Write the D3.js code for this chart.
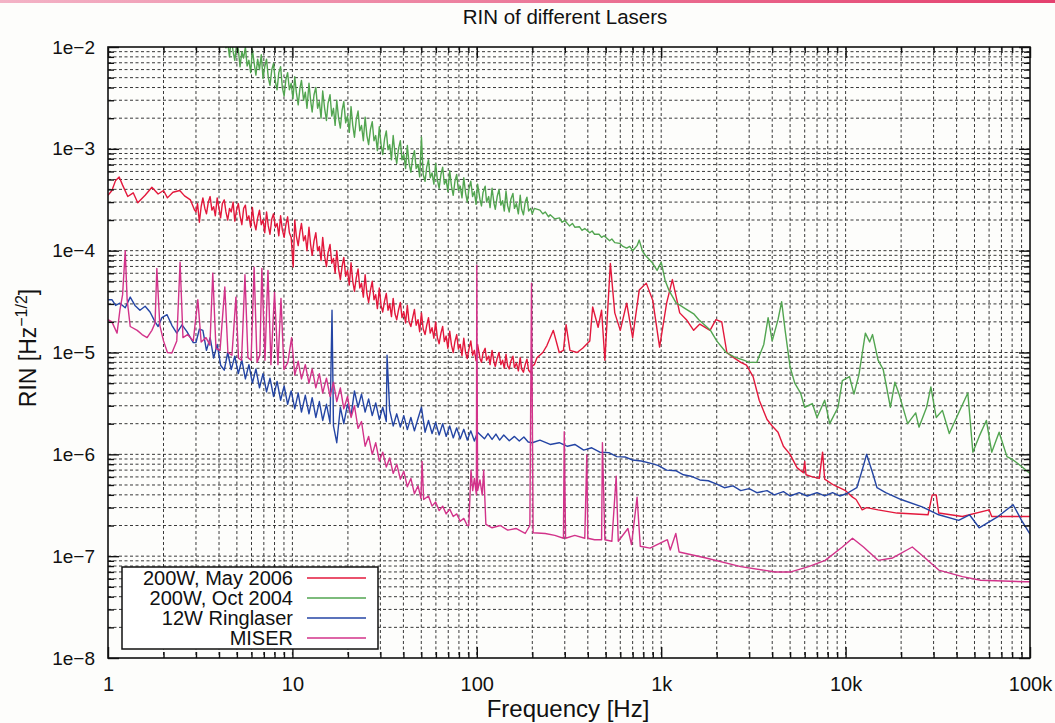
<!DOCTYPE html>
<html>
<head>
<meta charset="utf-8">
<script src="https://cdn.jsdelivr.net/npm/d3@7"></script>
<style>
    body { margin: 0; background: #fdfdfb; }
    svg { display: block; font-family: "Liberation Sans", Arial, Helvetica, sans-serif; }
</style>
</head>
<body>
<svg id="chart" width="1055" height="723"></svg>
<script>
// Series: [frequency Hz, RIN 1/sqrt(Hz)]
const may2006 = [
    [1.0,3.5e-4],[1.05,3.9e-4],[1.1,4.9e-4],[1.15,5.3e-4],[1.2,4.4e-4],[1.28,3.4e-4],[1.37,3.7e-4],[1.45,2.95e-4],
    [1.59,3.5e-4],[1.73,4.2e-4],[1.87,3.6e-4],[2.0,3.9e-4],[2.1,3.3e-4],[2.25,3.75e-4],[2.45,3.9e-4],[2.6,3.45e-4],
    [2.8,3.15e-4],[2.95,2.5e-4],[3.0,2.4e-4],[3.06,2.9e-4],[3.13,1.9e-4],[3.2,2.7e-4],[3.27,3.3e-4],[3.35,2.6e-4],
    [3.42,2.3e-4],[3.5,3.0e-4],[3.58,3.4e-4],[3.66,2.5e-4],[3.74,2.7e-4],[3.82,2.2e-4],[3.91,3.3e-4],[4.0,2.6e-4],
    [4.08,2.1e-4],[4.17,2.9e-4],[4.27,3.15e-4],[4.36,2.4e-4],[4.46,2.0e-4],[4.56,2.6e-4],[4.66,2.4e-4],[4.77,3.0e-4],
    [4.87,1.95e-4],[4.98,2.5e-4],[5.09,2.9e-4],[5.2,2.2e-4],[5.32,1.8e-4],[5.44,2.6e-4],[5.56,2.8e-4],[5.68,2.0e-4],
    [5.81,2.2e-4],[5.94,1.7e-4],[6.07,2.65e-4],[6.2,1.9e-4],[6.34,1.6e-4],[6.48,2.1e-4],[6.63,2.5e-4],[6.78,1.8e-4],
    [6.93,2.0e-4],[7.08,1.5e-4],[7.24,2.4e-4],[7.4,1.75e-4],[7.56,1.45e-4],[7.73,2.05e-4],[7.9,2.3e-4],[8.08,1.7e-4],
    [8.26,1.85e-4],[8.44,1.4e-4],[8.63,2.2e-4],[8.82,1.6e-4],[9.02,1.35e-4],[9.22,1.8e-4],[9.42,2.15e-4],[9.63,1.5e-4],
    [9.85,1.35e-4],[10.1,6.9e-5],[10.3,2.0e-4],[10.5,1.4e-4],[10.75,1.12e-4],[11.0,1.55e-4],[11.2,1.85e-4],[11.5,1.25e-4],
    [11.75,1.4e-4],[12.0,1.0e-4],[12.3,1.7e-4],[12.55,1.15e-4],[12.8,9.0e-5],[13.1,1.25e-4],[13.4,1.5e-4],[13.7,1.0e-4],
    [14.0,1.1e-4],[14.3,8.0e-5],[14.6,1.35e-4],[14.95,8.8e-5],[15.3,7.0e-5],[15.6,9.5e-5],[16.0,1.15e-4],[16.35,7.5e-5],
    [16.7,8.4e-5],[17.05,6.0e-5],[17.4,1.0e-4],[17.8,6.6e-5],[18.2,5.2e-5],[18.6,7.0e-5],[19.0,8.6e-5],[19.45,5.6e-5],
    [19.9,6.4e-5],[20.35,4.6e-5],[20.8,7.6e-5],[21.25,5.0e-5],[21.7,4.0e-5],[22.2,5.4e-5],[22.7,6.6e-5],[23.2,4.3e-5],
    [23.7,4.8e-5],[24.25,3.5e-5],[24.8,5.8e-5],[25.35,3.8e-5],[25.9,3.1e-5],[26.5,4.1e-5],[27.1,5.0e-5],[27.7,3.3e-5],
    [28.3,3.7e-5],[28.9,2.7e-5],[29.6,4.3e-5],[30.25,2.9e-5],[30.9,2.5e-5],[31.6,3.2e-5],[32.3,3.8e-5],[33.0,2.6e-5],
    [33.7,3.0e-5],[34.45,2.25e-5],[35.2,3.4e-5],[36.0,2.4e-5],[36.8,2.1e-5],[37.6,2.6e-5],[38.5,3.1e-5],[39.3,2.2e-5],
    [40.2,2.5e-5],[41.1,1.95e-5],[42.0,2.9e-5],[42.9,2.0e-5],[43.9,1.8e-5],[44.9,2.2e-5],[45.9,2.65e-5],[46.9,1.85e-5],
    [48.0,2.1e-5],[49.0,1.6e-5],[50.1,2.45e-5],[51.2,1.7e-5],[52.4,1.5e-5],[53.5,1.85e-5],[54.7,2.2e-5],[55.9,1.55e-5],
    [57.2,1.75e-5],[58.5,1.38e-5],[59.8,2.0e-5],[61.1,1.4e-5],[62.5,1.22e-5],[63.9,1.55e-5],[65.3,1.8e-5],[66.7,1.28e-5],
    [68.2,1.45e-5],[69.7,1.1e-5],[71.3,1.62e-5],[72.9,1.18e-5],[74.5,1.0e-5],[76.1,1.28e-5],[77.8,1.5e-5],[79.5,1.08e-5],
    [81.3,1.2e-5],[83.1,9.3e-6],[85.0,1.38e-5],[86.9,1.0e-5],[88.8,8.7e-6],[90.8,1.1e-5],[92.8,1.3e-5],[94.9,9.4e-6],
    [97.0,1.05e-5],[99.1,8.3e-6],[101,1.2e-5],[104,8.8e-6],[106,8.0e-6],[108,9.8e-6],[111,1.1e-5],[113,8.4e-6],
    [116,9.2e-6],[118,7.6e-6],[121,1.05e-5],[124,8.0e-6],[126,7.3e-6],[129,8.8e-6],[132,1.0e-5],[135,7.6e-6],
    [138,8.4e-6],[141,7.0e-6],[144,9.6e-6],[147,7.4e-6],[150,6.9e-6],[153,8.2e-6],[157,9.2e-6],[160,7.1e-6],
    [164,7.9e-6],[168,6.6e-6],[172,8.9e-6],[175,6.9e-6],[179,6.4e-6],[183,7.6e-6],[187,8.6e-6],[191,6.7e-6],
    [196,6.3e-6],[200,7.4e-6],[205,7.6e-6],[212,8.9e-6],[228,1e-5],[240,1.17e-5],[260,1.65e-5],[280,1e-5],
    [295,1.05e-5],[305,1.87e-5],[320,1.05e-5],[350,1e-5],[375,1.1e-5],[410,1.3e-5],[425,2.8e-5],[455,1.77e-5],
    [475,2.6e-5],[495,8.4e-6],[530,7.5e-5],[560,2.45e-5],[600,1.65e-5],[650,3.05e-5],[700,1.4e-5],[760,4.1e-5],
    [830,4.8e-5],[900,3.25e-5],[980,1.13e-5],[1070,3.05e-5],[1150,5.2e-5],[1260,2.45e-5],[1370,2.1e-5],[1500,1.65e-5],
    [1620,1.9e-5],[1840,1.65e-5],[1980,2.1e-5],[2130,2e-5],[2270,1e-5],[2450,9e-6],[2700,8e-6],[2900,7.5e-6],
    [3150,5.8e-6],[3400,3.4e-6],[3750,2.2e-6],[4000,1.9e-6],[4300,1.65e-6],[4600,1.2e-6],[5000,1e-6],[5450,7.4e-7],
    [5900,6.6e-7],[6000,8.5e-7],[6100,6.3e-7],[6600,6e-7],[7200,5.8e-7],[7500,1.05e-6],[7700,5.7e-7],[8600,5e-7],
    [10000,4.4e-7],[10900,3.8e-7],[11400,3.6e-7],[12300,2.85e-7],[13000,3e-7],[15000,2.85e-7],[19000,2.65e-7],
    [28000,2.55e-7],[29500,4e-7],[31000,4e-7],[32000,2.65e-7],[43000,2.45e-7],[60000,2.85e-7],[62000,2.45e-7],
    [100000,2.45e-7]
];

const oct2004 = [
    [4.1,1.4e-2],[4.27,1.3e-2],[4.36,9.8e-3],[4.46,1.1e-2],[4.56,8.0e-3],[4.66,1.25e-2],[4.77,9.0e-3],[4.87,7.4e-3],
    [4.98,1.05e-2],[5.09,9.5e-3],[5.2,6.4e-3],[5.32,9.0e-3],[5.44,7.8e-3],[5.56,1.0e-2],[5.68,6.5e-3],[5.81,7.4e-3],
    [5.94,5.6e-3],[6.07,9.4e-3],[6.2,7.0e-3],[6.34,5.3e-3],[6.48,7.6e-3],[6.63,6.0e-3],[6.78,8.4e-3],[6.93,4.9e-3],
    [7.08,6.4e-3],[7.24,7.6e-3],[7.4,5.0e-3],[7.56,4.2e-3],[7.73,6.0e-3],[7.9,6.9e-3],[8.08,4.6e-3],[8.26,3.8e-3],
    [8.44,5.6e-3],[8.63,6.4e-3],[8.82,4.0e-3],[9.02,3.3e-3],[9.22,4.8e-3],[9.42,5.6e-3],[9.63,3.8e-3],[9.85,4.4e-3],
    [10.07,3.1e-3],[10.3,5.1e-3],[10.5,3.6e-3],[10.75,2.7e-3],[11.0,4.0e-3],[11.2,4.7e-3],[11.5,3.0e-3],[11.75,3.6e-3],
    [12.0,2.5e-3],[12.3,4.4e-3],[12.55,3.0e-3],[12.8,2.3e-3],[13.1,3.4e-3],[13.4,4.0e-3],[13.7,2.5e-3],[14.0,2.9e-3],
    [14.3,2.0e-3],[14.6,3.7e-3],[14.95,2.5e-3],[15.3,1.9e-3],[15.6,2.8e-3],[16.0,3.4e-3],[16.35,2.1e-3],[16.7,2.5e-3],
    [17.05,1.7e-3],[17.4,3.0e-3],[17.8,2.0e-3],[18.2,1.6e-3],[18.6,2.4e-3],[19.0,2.9e-3],[19.45,1.8e-3],[19.9,2.1e-3],
    [20.35,1.45e-3],[20.8,2.6e-3],[21.25,1.7e-3],[21.7,1.3e-3],[22.2,1.95e-3],[22.7,2.35e-3],[23.2,1.5e-3],[23.7,1.7e-3],
    [24.25,1.2e-3],[24.8,2.05e-3],[25.35,1.35e-3],[25.9,1.1e-3],[26.5,1.55e-3],[27.1,1.85e-3],[27.7,1.2e-3],[28.3,1.35e-3],
    [28.9,9.6e-4],[29.6,1.65e-3],[30.25,1.1e-3],[30.9,8.8e-4],[31.6,1.25e-3],[32.3,1.5e-3],[33.0,9.8e-4],[33.7,1.1e-3],
    [34.45,7.8e-4],[35.2,1.35e-3],[36.0,9.0e-4],[36.8,7.2e-4],[37.6,1.0e-3],[38.5,1.2e-3],[39.3,7.8e-4],[40.2,8.8e-4],
    [41.1,6.4e-4],[42.0,1.08e-3],[42.9,7.2e-4],[43.9,5.9e-4],[44.9,8.2e-4],[45.9,9.6e-4],[46.9,6.4e-4],[48.0,7.0e-4],
    [49.0,5.3e-4],[50.1,1.3e-3],[51.2,5.6e-4],[52.4,4.8e-4],[53.5,6.6e-4],[54.7,7.8e-4],[55.9,5.2e-4],[57.2,5.8e-4],
    [58.5,4.5e-4],[59.8,7.2e-4],[61.1,5.0e-4],[62.5,4.1e-4],[63.9,5.6e-4],[65.3,6.6e-4],[66.7,4.5e-4],[68.2,5.0e-4],
    [69.7,3.8e-4],[71.3,6.1e-4],[72.9,4.3e-4],[74.5,3.5e-4],[76.1,4.8e-4],[77.8,5.6e-4],[79.5,3.9e-4],[81.3,4.3e-4],
    [83.1,3.3e-4],[85.0,5.2e-4],[86.9,3.7e-4],[88.8,3.0e-4],[90.8,4.1e-4],[92.8,4.8e-4],[94.9,3.4e-4],[97.0,3.8e-4],
    [99.1,2.85e-4],[101,4.5e-4],[104,3.2e-4],[106,2.75e-4],[108,3.7e-4],[111,4.3e-4],[113,3.0e-4],[116,3.4e-4],
    [118,2.65e-4],[121,4.1e-4],[124,2.9e-4],[126,2.55e-4],[129,3.4e-4],[132,4.0e-4],[135,2.8e-4],[138,3.1e-4],
    [141,2.45e-4],[144,3.85e-4],[147,2.75e-4],[150,2.4e-4],[153,3.2e-4],[157,3.65e-4],[160,2.6e-4],[164,2.9e-4],
    [168,2.3e-4],[172,3.5e-4],[175,2.55e-4],[179,2.25e-4],[183,3.0e-4],[187,3.35e-4],[191,2.45e-4],[196,2.6e-4],
    [200,2.3e-4],[205,2.6e-4],[220,2.5e-4],[228,2.3e-4],[235,2.4e-4],[245,2.15e-4],[250,2.25e-4],[265,2.05e-4],
    [281,2.1e-4],[290,1.9e-4],[300,1.98e-4],[318,1.75e-4],[330,1.85e-4],[340,1.7e-4],[360,1.72e-4],[372,1.58e-4],
    [385,1.65e-4],[410,1.5e-4],[422,1.56e-4],[435,1.45e-4],[460,1.45e-4],[475,1.35e-4],[490,1.4e-4],[525,1.25e-4],
    [540,1.3e-4],[560,1.2e-4],[595,1.18e-4],[620,1.1e-4],[650,1.06e-4],[675,1.1e-4],[700,1.0e-4],[740,1.12e-4],
    [760,1.27e-4],[790,1.0e-4],[820,9e-5],[890,7.7e-5],[950,6.4e-5],[1000,7.7e-5],[1050,5.1e-5],[1100,4.1e-5],
    [1200,3.1e-5],[1350,2.7e-5],[1500,2.4e-5],[1600,2.1e-5],[1850,1.65e-5],[2000,1.3e-5],[2250,1e-5],[2500,9e-6],
    [2800,8.4e-6],[3000,8e-6],[3300,8e-6],[3600,1.2e-5],[3800,2.2e-5],[4000,1.3e-5],[4300,2.1e-5],[4500,3.15e-5],
    [4700,1.65e-5],[5000,7.2e-6],[5300,5e-6],[5700,4e-6],[6000,2.9e-6],[6600,3.15e-6],[7000,2.3e-6],[7700,3.4e-6],
    [8200,2e-6],[9100,2.9e-6],[9600,5.3e-6],[10500,5.8e-6],[11100,3.9e-6],[11800,6e-6],[12800,1.55e-5],[13500,1.27e-5],
    [14000,1.5e-5],[15000,8.4e-6],[16000,6.8e-6],[17500,2.9e-6],[18500,5.1e-6],[19500,3.9e-6],[21700,2e-6],
    [24000,2.55e-6],[25000,1.85e-6],[27500,2.9e-6],[29000,4.6e-6],[31000,2.3e-6],[33500,2.7e-6],[36500,1.6e-6],
    [41000,2.55e-6],[46000,4e-6],[49000,1.05e-6],[53000,1.5e-6],[58000,2.15e-6],[62000,1.05e-6],[68000,1.65e-6],
    [75000,9.5e-7],[81000,8.8e-7],[90000,7.6e-7],[100000,6.5e-7]
];

const ringlaser = [
    [1.0,3.3e-5],[1.05,3.3e-5],[1.1,2.9e-5],[1.16,3.05e-5],[1.24,2.75e-5],[1.32,3.5e-5],[1.4,2.9e-5],[1.49,2.6e-5],
    [1.59,2.85e-5],[1.69,2.5e-5],[1.8,2e-5],[1.87,1.8e-5],[1.96,2.2e-5],[2.09,2.35e-5],[2.22,1.85e-5],[2.36,1.55e-5],
    [2.52,1.87e-5],[2.68,1.6e-5],[2.9,1.25e-5],[3.0,1.25e-5],[3.13,1.7e-5],[3.27,1.65e-5],[3.42,1.05e-5],[3.58,1.4e-5],
    [3.74,8.8e-6],[3.91,1.2e-5],[4.08,7.5e-6],[4.27,6.7e-6],[4.46,1.0e-5],[4.66,6.8e-6],[4.87,9.2e-6],[5.09,6.2e-6],
    [5.32,8.4e-6],[5.56,5.5e-6],[5.81,7.6e-6],[6.07,5.0e-6],[6.34,6.9e-6],[6.63,4.5e-6],[6.93,6.2e-6],[7.24,4.1e-6],
    [7.56,5.6e-6],[7.9,3.7e-6],[8.26,5.2e-6],[8.63,3.4e-6],[9.02,4.7e-6],[9.42,3.1e-6],[9.85,4.2e-6],[10.3,2.8e-6],
    [10.75,4.0e-6],[11.2,2.6e-6],[11.75,3.8e-6],[12.3,2.5e-6],[12.8,3.6e-6],[13.4,2.3e-6],[14.0,3.3e-6],[14.6,2.15e-6],
    [15.3,3.1e-6],[16.0,2.05e-6],[16.4,2.6e-5],[16.7,1.9e-6],[17.4,1.3e-6],[18.2,2.9e-6],[19.0,2.0e-6],[19.9,3.1e-6],
    [20.8,2.4e-6],[21.7,4.2e-6],[22.7,2.9e-6],[23.7,3.9e-6],[24.8,2.6e-6],[25.9,3.5e-6],[27.1,2.4e-6],[28.3,3.2e-6],
    [29.6,2.2e-6],[30.9,2.9e-6],[32.3,2.1e-6],[32.6,9.4e-6],[33.7,2.7e-6],[35.2,1.9e-6],[36.8,2.5e-6],[38.5,1.85e-6],
    [40.2,2.4e-6],[42.0,1.75e-6],[43.9,2.3e-6],[45.9,1.7e-6],[48.0,2.25e-6],[50.1,2.9e-6],[52.4,1.65e-6],[54.7,2.15e-6],
    [57.2,1.6e-6],[59.8,2.05e-6],[62.5,1.55e-6],[65.3,2.0e-6],[68.2,1.5e-6],[71.3,1.9e-6],[74.5,1.45e-6],[77.8,1.82e-6],
    [81.3,1.42e-6],[85.0,1.76e-6],[88.8,1.38e-6],[92.8,1.7e-6],[97.0,1.35e-6],[101,1.65e-6],[110,1.42e-6],[115,1.6e-6],
    [121,1.4e-6],[127,1.58e-6],[133,1.38e-6],[140,1.55e-6],[150,1.36e-6],[160,1.5e-6],[170,1.35e-6],[180,1.48e-6],
    [190,1.32e-6],[200,1.3e-6],[220,1.38e-6],[250,1.25e-6],[280,1.3e-6],[310,1.2e-6],[340,1.25e-6],[380,1.1e-6],
    [420,1.16e-6],[465,1.05e-6],[520,1.04e-6],[575,9.5e-7],[640,9.4e-7],[700,8.8e-7],[780,8.6e-7],[870,8.2e-7],
    [960,7.8e-7],[1070,7e-7],[1200,6.9e-7],[1320,6.3e-7],[1450,6.1e-7],[1620,5.6e-7],[1800,5.5e-7],[2000,5.1e-7],
    [2200,4.7e-7],[2450,4.9e-7],[2700,4.4e-7],[3000,4.6e-7],[3300,4.2e-7],[3750,4.4e-7],[4100,4.0e-7],[4600,4.3e-7],
    [5000,3.9e-7],[5600,4.2e-7],[6200,3.9e-7],[7000,4.2e-7],[7700,3.9e-7],[8500,4.2e-7],[9300,3.9e-7],[10100,4.1e-7],
    [11500,4.7e-7],[12300,7e-7],[13000,1e-6],[14000,6.6e-7],[14800,4.7e-7],[16500,4.2e-7],[20000,3.6e-7],
    [26000,3.05e-7],[32000,2.55e-7],[41000,2.25e-7],[47000,2.55e-7],[53000,1.9e-7],[66000,2.4e-7],[81000,3.2e-7],
    [90000,2.25e-7],[100000,1.65e-7]
];

const miser = [
    [1.0,2.1e-5],[1.05,2e-5],[1.12,1.55e-5],[1.16,2.6e-5],[1.2,3.7e-5],[1.24,1e-4],[1.27,3.3e-5],[1.32,1.8e-5],
    [1.44,1.65e-5],[1.53,1.5e-5],[1.63,1.4e-5],[1.73,1.65e-5],[1.8,1.95e-5],[1.84,6.7e-5],[1.91,1.85e-5],[2.0,1.3e-5],
    [2.1,1e-5],[2.22,9.9e-6],[2.36,1.3e-5],[2.46,7.7e-5],[2.55,1.4e-5],[2.7,1.5e-5],[2.9,1.3e-5],[3.07,3.3e-5],
    [3.2,1.27e-5],[3.4,1.4e-5],[3.57,1.18e-5],[3.7,6e-5],[3.85,1.1e-5],[4.05,1.05e-5],[4.3,4.4e-5],[4.47,1e-5],
    [4.7,9.4e-6],[4.94,3.5e-5],[5.1,8.8e-6],[5.3,8.4e-6],[5.53,5.8e-5],[5.74,8.9e-6],[5.97,8.4e-6],[6.2,6.9e-5],
    [6.43,8e-6],[6.66,9.4e-6],[6.83,6.7e-5],[7.1,8.4e-6],[7.37,6.4e-5],[7.65,7.6e-6],[8.0,3.9e-5],[8.35,7.6e-6],
    [8.67,3.4e-5],[9.0,6.8e-6],[9.45,8e-6],[9.9,1.4e-5],[10.3,6.0e-6],[10.75,8.2e-6],[11.2,5.5e-6],[11.75,7.6e-6],
    [12.3,5.0e-6],[12.8,6.9e-6],[13.4,4.5e-6],[14.0,6.2e-6],[14.6,4.0e-6],[15.3,5.6e-6],[16.0,3.7e-6],[16.7,5.1e-6],
    [17.4,3.3e-6],[18.2,4.5e-6],[19.0,2.8e-6],[19.9,3.7e-6],[20.8,2.3e-6],[21.7,3.0e-6],[22.7,1.8e-6],[23.7,2.1e-6],
    [24.8,1.2e-6],[25.9,1.5e-6],[27.1,1.0e-6],[28.3,1.3e-6],[29.6,8.6e-7],[30.9,1.05e-6],[32.3,7.5e-7],[33.7,9.2e-7],
    [35.2,6.5e-7],[36.8,8.0e-7],[38.5,5.7e-7],[40.2,6.8e-7],[42.0,4.8e-7],[43.9,5.8e-7],[45.9,4.1e-7],[48.0,4.9e-7],
    [49.8,3.7e-7],[50.5,8.5e-7],[51.5,3.6e-7],[54.7,3.9e-7],[57.2,3.1e-7],[59.8,3.4e-7],[62.5,2.8e-7],[65.3,3.1e-7],
    [68.2,2.6e-7],[71.3,2.9e-7],[74.5,2.45e-7],[77.8,2.6e-7],[81.3,2.2e-7],[85.0,2.35e-7],[88.8,2.0e-7],[90.5,2e-7],
    [93,7e-7],[95,4.4e-7],[97,5.8e-7],[99.5,4e-7],[100,7.2e-5],[101,4.4e-7],[104,5.6e-7],[107,4e-7],
    [109,7e-7],[112,2.05e-7],[121,1.9e-7],[134,2e-7],[147,1.8e-7],[163,1.87e-7],[183,1.67e-7],[194,2e-7],
    [198,4.8e-5],[202,1.7e-7],[235,1.67e-7],[265,1.6e-7],[295,1.5e-7],[298,1.67e-6],[303,1.5e-7],[340,1.6e-7],
    [385,1.5e-7],[395,9.9e-7],[400,1.5e-7],[435,1.45e-7],[475,1.45e-7],[480,1.3e-6],[495,1.45e-7],[540,1.4e-7],
    [570,6.1e-7],[585,1.4e-7],[660,1.87e-7],[690,1.3e-7],[740,3.8e-7],[770,1.25e-7],[870,1.2e-7],[1080,1.45e-7],
    [1120,1.15e-7],[1200,1.67e-7],[1250,1.1e-7],[1750,9.6e-8],[2700,7.9e-8],[4150,7e-8],[5050,7e-8],[6300,7.9e-8],
    [7750,9.1e-8],[9600,1.23e-7],[10900,1.5e-7],[12500,1.23e-7],[15000,9.1e-8],[18000,9.6e-8],[23000,1.23e-7],
    [27000,9.6e-8],[32000,7.3e-8],[43000,6.3e-8],[54000,5.8e-8],[94000,5.6e-8],[100000,5.6e-8]
];

const seriesNames = ['200W, May 2006', '200W, Oct 2004', '12W Ringlaser', 'MISER'];
const seriesColors = ['#e3183c', '#52a550', '#2445a4', '#d2338a'];
const seriesData = [may2006, oct2004, ringlaser, miser];

const xTickValues = [1, 10, 100, 1000, 10000, 100000];
const xTickLabels = ['1', '10', '100', '1k', '10k', '100k'];
const yTickValues = [1e-8, 1e-7, 1e-6, 1e-5, 1e-4, 1e-3, 1e-2];
const yTickLabels = ['1e\u22128', '1e\u22127', '1e\u22126', '1e\u22125', '1e\u22124', '1e\u22123', '1e\u22122'];

// Plot frame
const plotLeft = 108, plotRight = 1030, plotTop = 47, plotBottom = 658;

const svg = d3.select('#chart');

// scan header stripe
const grad = svg.append('defs').append('linearGradient').attr('id', 'stripe');
grad.append('stop').attr('offset', '0%').attr('stop-color', '#f3b3c6');
grad.append('stop').attr('offset', '100%').attr('stop-color', '#e4406e');
svg.append('rect').attr('x', 0).attr('y', 0).attr('width', 1055).attr('height', 3)
    .attr('fill', 'url(#stripe)');

const x = d3.scaleLog().domain([1, 1e5]).range([plotLeft, plotRight]);
const y = d3.scaleLog().domain([1e-8, 1e-2]).range([plotBottom, plotTop]);

const xAll = x.ticks();
const yAll = y.ticks();
const isMajor = v => Math.abs(Math.log10(v) - Math.round(Math.log10(v))) < 1e-9;
const xMinor = xAll.filter(v => !isMajor(v));
const yMinor = yAll.filter(v => !isMajor(v));

// Grid
const grid = svg.append('g').attr('stroke', '#222').attr('stroke-width', 0.9)
    .attr('stroke-dasharray', '3,2.5');
grid.selectAll('.gx').data(xAll.filter(v => v > 1 && v < 1e5)).enter().append('line')
    .attr('x1', d => x(d)).attr('x2', d => x(d)).attr('y1', plotTop).attr('y2', plotBottom);
grid.selectAll('.gy').data(yAll.filter(v => v > 1e-8 && v < 1e-2)).enter().append('line')
    .attr('y1', d => y(d)).attr('y2', d => y(d)).attr('x1', plotLeft).attr('x2', plotRight);

// Data lines
svg.append('clipPath').attr('id', 'plotClip').append('rect')
    .attr('x', plotLeft).attr('y', plotTop).attr('width', plotRight - plotLeft).attr('height', plotBottom - plotTop);

const line = d3.line().x(d => x(d[0])).y(d => y(d[1]));
svg.append('g').attr('clip-path', 'url(#plotClip)')
    .selectAll('path').data(seriesData).enter().append('path')
    .attr('fill', 'none')
    .attr('stroke', (d, i) => seriesColors[i])
    .attr('stroke-width', 1.4)
    .attr('stroke-linejoin', 'round')
    .attr('d', line);

// Axes with inward ticks
function styleAxis(g) {
    g.select('.domain').remove();
    g.selectAll('.tick line').attr('stroke', '#111').attr('stroke-width', 1.4);
    g.selectAll('.tick text').attr('fill', '#111').style('font-size', '19px');
}

svg.append('g').attr('transform', `translate(0,${plotBottom})`)
    .call(d3.axisBottom(x).tickValues(xMinor).tickSize(-6).tickFormat('')).call(styleAxis);
svg.append('g').attr('transform', `translate(0,${plotBottom})`)
    .call(d3.axisBottom(x).tickValues(xTickValues).tickSize(-11).tickPadding(19)
        .tickFormat((d, i) => xTickLabels[i])).call(styleAxis)
    .selectAll('.tick text').style('font-size', '20px');
svg.append('g').attr('transform', `translate(0,${plotTop})`)
    .call(d3.axisTop(x).tickValues(xMinor).tickSize(-6).tickFormat('')).call(styleAxis);
svg.append('g').attr('transform', `translate(0,${plotTop})`)
    .call(d3.axisTop(x).tickValues(xTickValues).tickSize(-11).tickFormat('')).call(styleAxis);

svg.append('g').attr('transform', `translate(${plotLeft},0)`)
    .call(d3.axisLeft(y).tickValues(yMinor).tickSize(-6).tickFormat('')).call(styleAxis);
svg.append('g').attr('transform', `translate(${plotLeft},0)`)
    .call(d3.axisLeft(y).tickValues(yTickValues).tickSize(-11).tickPadding(13)
        .tickFormat((d, i) => yTickLabels[i])).call(styleAxis);
svg.append('g').attr('transform', `translate(${plotRight},0)`)
    .call(d3.axisRight(y).tickValues(yMinor).tickSize(-6).tickFormat('')).call(styleAxis);
svg.append('g').attr('transform', `translate(${plotRight},0)`)
    .call(d3.axisRight(y).tickValues(yTickValues).tickSize(-11).tickFormat('')).call(styleAxis);

// Frame
svg.append('rect').attr('x', plotLeft).attr('y', plotTop)
    .attr('width', plotRight - plotLeft).attr('height', plotBottom - plotTop)
    .attr('fill', 'none').attr('stroke', '#111').attr('stroke-width', 1.6);

// Titles
svg.append('text').attr('x', 565).attr('y', 24).attr('text-anchor', 'middle')
    .style('font-size', '20.5px').attr('fill', '#111').text('RIN of different Lasers');

svg.append('text').attr('x', 568).attr('y', 717).attr('text-anchor', 'middle')
    .style('font-size', '24px').attr('fill', '#111').text('Frequency [Hz]');

const yLabel = svg.append('text').attr('transform', 'translate(36,348) rotate(-90)')
    .attr('text-anchor', 'middle').style('font-size', '23px').attr('fill', '#111');
yLabel.append('tspan').text('RIN [Hz');
yLabel.append('tspan').attr('dy', -9).style('font-size', '16px').text('\u22121/2');
yLabel.append('tspan').attr('dy', 9).text(']');

// Legend
const legend = svg.append('g');
legend.append('rect').attr('x', 122).attr('y', 567).attr('width', 256).attr('height', 82)
    .attr('fill', '#fff').attr('stroke', '#111').attr('stroke-width', 1.5);
const rows = legend.selectAll('.row').data(seriesNames).enter().append('g')
    .attr('transform', (d, i) => `translate(0,${578 + i * 20})`);
rows.append('text').attr('x', 293).attr('y', 7).attr('text-anchor', 'end')
    .style('font-size', '20px').attr('fill', '#111').text(d => d);
rows.append('line').attr('x1', 307).attr('x2', 366).attr('y1', 0).attr('y2', 0)
    .attr('stroke', (d, i) => seriesColors[i]).attr('stroke-width', 1.4);
</script>
</body>
</html>
